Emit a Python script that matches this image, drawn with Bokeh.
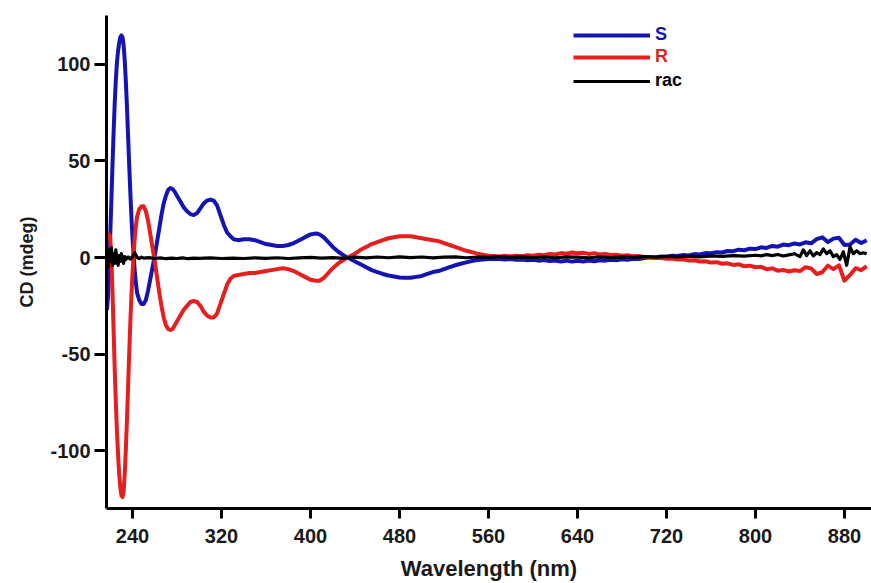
from bokeh.plotting import figure
from bokeh.models import Range1d, FixedTicker, Legend, LegendItem, PrintfTickFormatter
from bokeh.embed import file_html
from bokeh.resources import INLINE

# ---- data ----
wavelength = [217, 218, 219, 220, 221, 222, 223, 224, 225, 226, 227, 228, 229, 230, 231,
              232, 233, 234, 235, 236, 237, 238, 239, 240, 241, 242, 243, 244, 246, 248,
              250, 252, 254, 256, 258, 260, 262, 264, 266, 268, 270, 272, 274, 276, 278,
              280, 283, 286, 289, 292, 295, 298, 301, 304, 307, 310, 313, 316, 319, 322,
              325, 328, 331, 335, 340, 345, 350, 355, 360, 365, 370, 375, 380, 385, 390,
              395, 400, 405, 408, 412, 416, 420, 425, 430, 435, 440, 445, 450, 455, 460,
              465, 470, 475, 480, 485, 490, 495, 500, 505, 510, 515, 520, 525, 530, 535,
              540, 545, 550, 555, 560, 565,
              570, 575, 580, 585, 590, 595, 600, 605, 610, 615, 620, 625, 630, 635, 640,
              645, 650, 655, 660, 665, 670, 675, 680, 685, 690, 695, 700, 705, 710, 715,
              720, 725, 730, 735, 740, 745, 750, 755, 760, 765, 770, 775, 780, 785, 790,
              795, 800, 805, 810, 815, 820, 825, 830, 835, 840, 845, 850, 855, 860, 865,
              870, 875, 880, 885, 890, 895, 900]

cd_S = [-27, -20, -5, 12, 30, 48, 65, 80, 92, 101, 107, 111, 114, 115, 114,
        110, 102, 91, 78, 63, 48, 34, 21, 10, 1, -7, -13, -18, -22, -24,
        -24, -22, -17, -11, -5, 1, 8, 15, 22, 28, 32, 35, 36, 35.5, 34,
        32, 29, 26, 24, 22.5, 22, 23, 25.5, 28, 29.5, 30, 29.5, 27, 22, 17,
        13, 11, 9.5, 9, 9.5, 9.5, 9, 8, 7, 6.5, 6, 6, 6.5, 7.5, 9,
        10.5, 12, 12.5, 12, 10.5, 8, 5.5, 3, 1, -0.5, -2, -3.5, -5, -6.5, -7.5,
        -8.5, -9.3, -9.8, -10.3, -10.5, -10.5, -10, -9.5, -8.5, -7.5, -7, -6, -5, -4, -3.2,
        -2.5, -1.8, -1.3, -1, -0.8, -0.7,
        -0.8, -1.0, -0.7, -1.2, -1.0, -1.4, -1.1, -1.6, -1.3, -1.8, -1.5, -2.0, -1.6, -2.1, -1.7,
        -2.0, -1.5, -1.9, -1.4, -1.6, -1.1, -1.4, -0.9, -1.1, -0.6, -0.7, -0.2, 0.1, 0.0, 0.5,
        0.4, 0.9, 0.8, 1.3, 1.1, 1.8, 1.6, 2.3, 2.2, 2.8, 2.6, 3.4, 3.3, 4.1, 3.8,
        4.6, 4.4, 5.3, 5.0, 6.0, 5.6, 6.7, 6.4, 7.3, 6.8, 7.9, 7.4, 9.5, 10.5, 8.0,
        9.8, 10.2, 6.5, 6.8, 9.2, 7.5, 9.0]

cd_R = [9, 12, 12, 10, 0, -18, -38, -58, -75, -90, -102, -112, -119, -123, -124,
        -121, -112, -99, -84, -67, -50, -34, -20, -8, 2, 10, 16, 21, 25, 26.5,
        26.5, 24, 19, 12, 5, -2, -10, -18, -25, -31, -35, -37, -37.5, -37, -35,
        -33, -30, -27, -25, -23, -22.5, -23, -25, -28, -30, -31, -31, -29, -24, -19,
        -14, -11, -9.5, -9, -8.5, -8, -8, -7.5, -7, -6.5, -6, -5.5, -6, -7, -8.5,
        -10, -11.5, -12, -12, -10.5, -8, -5.5, -3, -1, 0.5, 2, 4, 5.5, 7, 8,
        9, 10, 10.5, 11, 11, 11, 10.5, 10, 9.5, 9, 8.5, 7.5, 6.5, 5.5, 4.5,
        3.5, 2.8, 2, 1.5, 1, 0.8,
        0.6, 0.9, 0.5, 1.0, 0.7, 1.2, 0.9, 1.5, 1.2, 1.9, 1.6, 2.3, 2.0, 2.6, 2.2,
        2.5, 1.9, 2.2, 1.6, 1.8, 1.3, 1.5, 1.0, 1.2, 0.7, 0.8, 0.3, 0.2, -0.2, -0.1,
        -0.6, -0.5, -1.0, -0.9, -1.5, -1.4, -2.0, -1.9, -2.6, -2.4, -3.2, -3.0, -3.8, -3.5, -4.5,
        -4.2, -5.0, -4.8, -6.0, -5.6, -6.8, -6.4, -7.2, -6.6, -7.0, -5.0, -5.6, -8.5, -7.6, -4.2,
        -6.0, -4.0, -12.0, -9.0, -5.5, -6.5, -4.5]

wavelength_rac = [217, 218, 219, 220, 221, 222, 223, 224, 225, 226, 227, 228, 229, 230, 231,
                  232, 233, 234, 236, 238, 240, 242, 244, 246, 248, 250, 255, 260, 265, 270,
                  275, 280, 285, 290, 295, 300, 310, 320, 330, 340, 350, 360, 370, 380, 390,
                  400, 410, 420, 430, 440, 450, 460, 470, 480, 490, 500, 510, 520, 530, 540,
                  550, 560, 570, 580, 590, 600, 610, 620, 630, 640, 650, 660, 670, 680, 690,
                  700, 710, 720, 730, 740, 750, 760, 770, 780, 790, 800, 805, 810, 815, 820,
                  825, 830, 835, 840, 843, 846, 849, 852, 855, 858, 861, 864, 867, 870, 873,
                  876, 879, 882, 885, 888, 891, 894, 897, 900]

cd_rac = [3, -5, 4, -2, 5, -4, 2, -3, 4, -1, -4, 1, -2, 2, -1,
          -3, 0.5, -1, 0.3, -0.8, 0.5, 2.5, 0.2, -0.6, 0.2, -0.3, 0, -0.5, -0.2, -0.6,
          -0.3, -0.5, -0.2, -0.6, -0.3, -0.4, -0.2, -0.5, -0.3, -0.5, -0.2, -0.4, -0.1, -0.5, -0.2,
          0.1, -0.3, 0.0, -0.4, 0.2, -0.2, 0.3, -0.1, 0.4, 0.0, 0.3, -0.2, 0.2, 0.4, -0.1,
          0.3, 0.1, 0.5, 0.1, 0.4, 0.0, 0.3, -0.1, 0.4, 0.2, -0.1, 0.3, 0.0, 0.4, 0.1,
          0.5, 0.2, 0.6, 0.3, 0.7, 0.4, 0.9, 0.6, 1.0, 0.7, 1.2, 0.9, 1.5, 1.0, 1.6,
          0.8, 1.4, 2.0, 0.5, 4.0, 1.0, 3.5, 0.8, 2.5, 1.5, 4.5, 2.0, 3.5, 0.5, 1.5,
          -1.0, 3.0, -4.0, 5.5, 2.0, 3.5, 2.0, 2.5, 2.0]

x_ticks = [240, 320, 400, 480, 560, 640, 720, 800, 880]
y_ticks = [-100, -50, 0, 50, 100]
series_names = ["S", "R", "rac"]
series_colors = ["#1414b4", "#e61e1e", "#000000"]

FONT = "Liberation Sans"

p = figure(width=871, height=583, output_backend="svg", toolbar_location=None,
           x_range=Range1d(216.6, 904.3), y_range=Range1d(-129.9, 125.3),
           min_border_left=106, min_border_right=0, min_border_top=15, min_border_bottom=73)
p.outline_line_color = None
p.xgrid.visible = False
p.ygrid.visible = False
p.background_fill_color = "white"
p.border_fill_color = "white"

r_S = p.line(wavelength, cd_S, line_color=series_colors[0], line_width=4, line_join="round")
r_R = p.line(wavelength, cd_R, line_color=series_colors[1], line_width=4, line_join="round")
r_rac = p.line(wavelength_rac, cd_rac, line_color=series_colors[2], line_width=3.2, line_join="round")

for ax in (p.xaxis[0], p.yaxis[0]):
    ax.axis_line_width = 3
    ax.axis_line_color = "black"
    ax.major_tick_line_width = 3
    ax.major_tick_line_color = "black"
    ax.major_tick_in = 0
    ax.minor_tick_line_color = None
    ax.major_label_text_font = FONT
    ax.major_label_text_font_style = "bold"
    ax.major_label_text_font_size = "20px"
    ax.major_label_text_color = "#1a1a1a"
    ax.axis_label_text_font = FONT
    ax.axis_label_text_font_style = "bold"
    ax.axis_label_text_color = "#1a1a1a"
    ax.formatter = PrintfTickFormatter(format="%d")

p.xaxis.ticker = FixedTicker(ticks=x_ticks)
p.yaxis.ticker = FixedTicker(ticks=y_ticks)
p.xaxis.major_tick_out = 10
p.yaxis.major_tick_out = 12
p.xaxis.major_label_standoff = 10
p.yaxis.major_label_standoff = 4
p.xaxis.axis_label = "Wavelength (nm)"
p.xaxis.axis_label_text_font_size = "22px"
p.xaxis.axis_label_standoff = 10
p.yaxis.axis_label = "CD (mdeg)"
p.yaxis.axis_label_text_font_size = "18px"
p.yaxis.axis_label_standoff = 10

# one legend per entry so each label keeps its own colour
legend_y = [463, 441, 417]
for name, color, rend, ly in zip(series_names, series_colors, [r_S, r_R, r_rac], legend_y):
    lg = Legend(items=[LegendItem(label=name, renderers=[rend])], location=(467, ly),
                orientation="vertical", glyph_width=77, glyph_height=20, label_height=20,
                label_standoff=5, padding=0, margin=0, spacing=0,
                background_fill_alpha=0, border_line_color=None,
                label_text_font=FONT, label_text_font_style="bold",
                label_text_font_size="18px", label_text_color=color)
    p.add_layout(lg)

open("out.html", "w").write(file_html(p, INLINE))
